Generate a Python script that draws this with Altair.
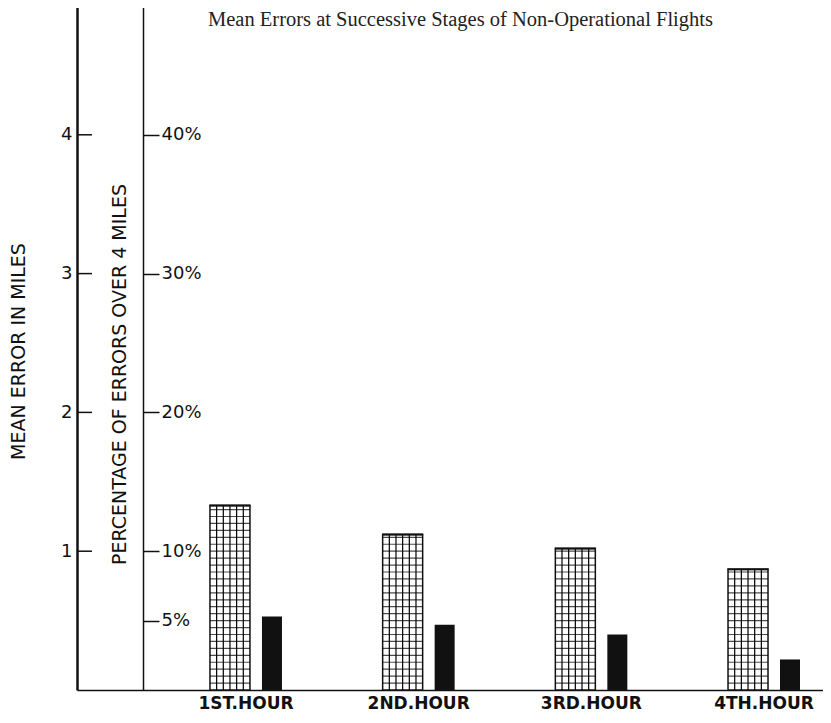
import altair as alt
import pandas as pd

# ---- data ----
HOURS = ["1ST.HOUR", "2ND.HOUR", "3RD.HOUR", "4TH.HOUR"]
MEAN_ERROR = [1.33, 1.12, 1.02, 0.87]        # miles (hatched bars)
PCT_OVER_4 = [5.3, 4.7, 4.0, 2.2]            # percent (black bars)
MEAN_TICKS = [1, 2, 3, 4, 5]
PCT_TICKS = [5, 10, 20, 30, 40, 50]
TITLE = "Mean Errors at Successive Stages of Non-Operational Flights"
LEFT_TITLE = "MEAN ERROR IN MILES"
INNER_TITLE = "PERCENTAGE OF ERRORS OVER 4 MILES"

# ---- layout / style ----
W, H = 746, 694
HATCH = 0.05
FONT = "DejaVu Sans"
INK = "#111111"

df = pd.DataFrame({"hour": HOURS, "mean": MEAN_ERROR, "pct": PCT_OVER_4})
hatch_df = pd.DataFrame(
    [{"hour": h, "mean": k * HATCH}
     for h, v in zip(HOURS, MEAN_ERROR)
     for k in range(1, int(v / HATCH) + 1) if k * HATCH < v - 0.015]
)
tick_df = pd.DataFrame({"mean": MEAN_TICKS})
title_df = pd.DataFrame({"t": [TITLE]})

xscale = alt.Scale(domain=HOURS, paddingInner=0.537, paddingOuter=0.4285, align=0.8716)
XAXIS = alt.Axis(title=None, labelAngle=0, tickSize=0, labelPadding=5,
                 labelFontSize=17, labelFont=FONT, labelFontWeight="bold",
                 labelColor=INK, domainWidth=1.5, domainColor=INK, grid=False)


def xenc():
    return alt.X("hour:N", scale=xscale, sort=HOURS, axis=XAXIS)


mscale = alt.Scale(domain=[0, 5], nice=False)
pscale = alt.Scale(domain=[0, 50], nice=False)
MAXIS = alt.Axis(values=MEAN_TICKS, orient="left", format="d", grid=False,
                 title=LEFT_TITLE, titleAngle=270, titleX=-59, titleY=355,
                 titleAlign="center", titleBaseline="middle",
                 titleFont=FONT, titleFontSize=19, titleFontWeight="normal",
                 titleColor=INK, labelFont=FONT, labelFontSize=18,
                 labelColor=INK, labelPadding=5, tickSize=0,
                 domainWidth=2.5, domainColor=INK)


def menc():
    return alt.Y("mean:Q", scale=mscale, axis=MAXIS)


hatched = alt.Chart(df).mark_bar(width=40, xOffset=-16, fill="white", stroke=INK,
                                 strokeWidth=1.5).encode(
    x=xenc(), y=menc(), y2=alt.datum(0))

hatch_h = alt.Chart(hatch_df).mark_tick(orient="horizontal", size=40, thickness=1.2,
                                        xOffset=-16, color="#000000").encode(
    x=xenc(), y=menc())

vlines = []
for k in range(1, 6):
    off = -36 + 40 * k / 6
    vlines.append(alt.Chart(df).mark_rule(xOffset=off, strokeWidth=1.2, color="#000000").encode(
        x=xenc(), y=menc(), y2=alt.datum(0)))

top_edge = alt.Chart(df).mark_tick(orient="horizontal", size=41, thickness=2.5,
                                   xOffset=-16, color=INK).encode(
    x=xenc(), y=menc())

inner_ticks = alt.Chart(tick_df).mark_rule(color=INK, strokeWidth=1.5).encode(
    y=menc(), x=alt.value(0), x2=alt.value(15))

title = alt.Chart(title_df).mark_text(align="left", baseline="alphabetic",
                                      font="Liberation Serif", fontSize=20.5,
                                      color="#222222").encode(
    text="t:N", x=alt.value(131), y=alt.value(30))

mean_group = alt.layer(hatched, hatch_h, *vlines, top_edge, inner_ticks, title)

black = alt.Chart(df).mark_bar(width=20, xOffset=26, color=INK).encode(
    x=xenc(),
    y=alt.Y("pct:Q", scale=pscale,
            axis=alt.Axis(orient="right", offset=-(W - 66), values=PCT_TICKS,
                          labelExpr="datum.value + '%'", grid=False,
                          tickSize=16, tickWidth=1.5, tickColor=INK,
                          labelPadding=2, labelFont=FONT, labelFontSize=18,
                          labelColor=INK, domainWidth=1.5, domainColor=INK,
                          title=INNER_TITLE, titleAngle=270, titleX=-24, titleY=378,
                          titleAlign="center", titleBaseline="middle",
                          titleFont=FONT, titleFontSize=19, titleFontWeight="normal",
                          titleColor=INK)),
    y2=alt.datum(0),
)

chart = alt.layer(mean_group, black).resolve_scale(y="independent").properties(
    width=W, height=H,
    autosize=alt.AutoSizeParams(type="none"),
    padding={"left": 69, "top": -12, "right": 0, "bottom": 23},
    background="white",
).configure_view(stroke=None)

chart.save("out.html", embed_options={"renderer": "svg", "actions": False})
